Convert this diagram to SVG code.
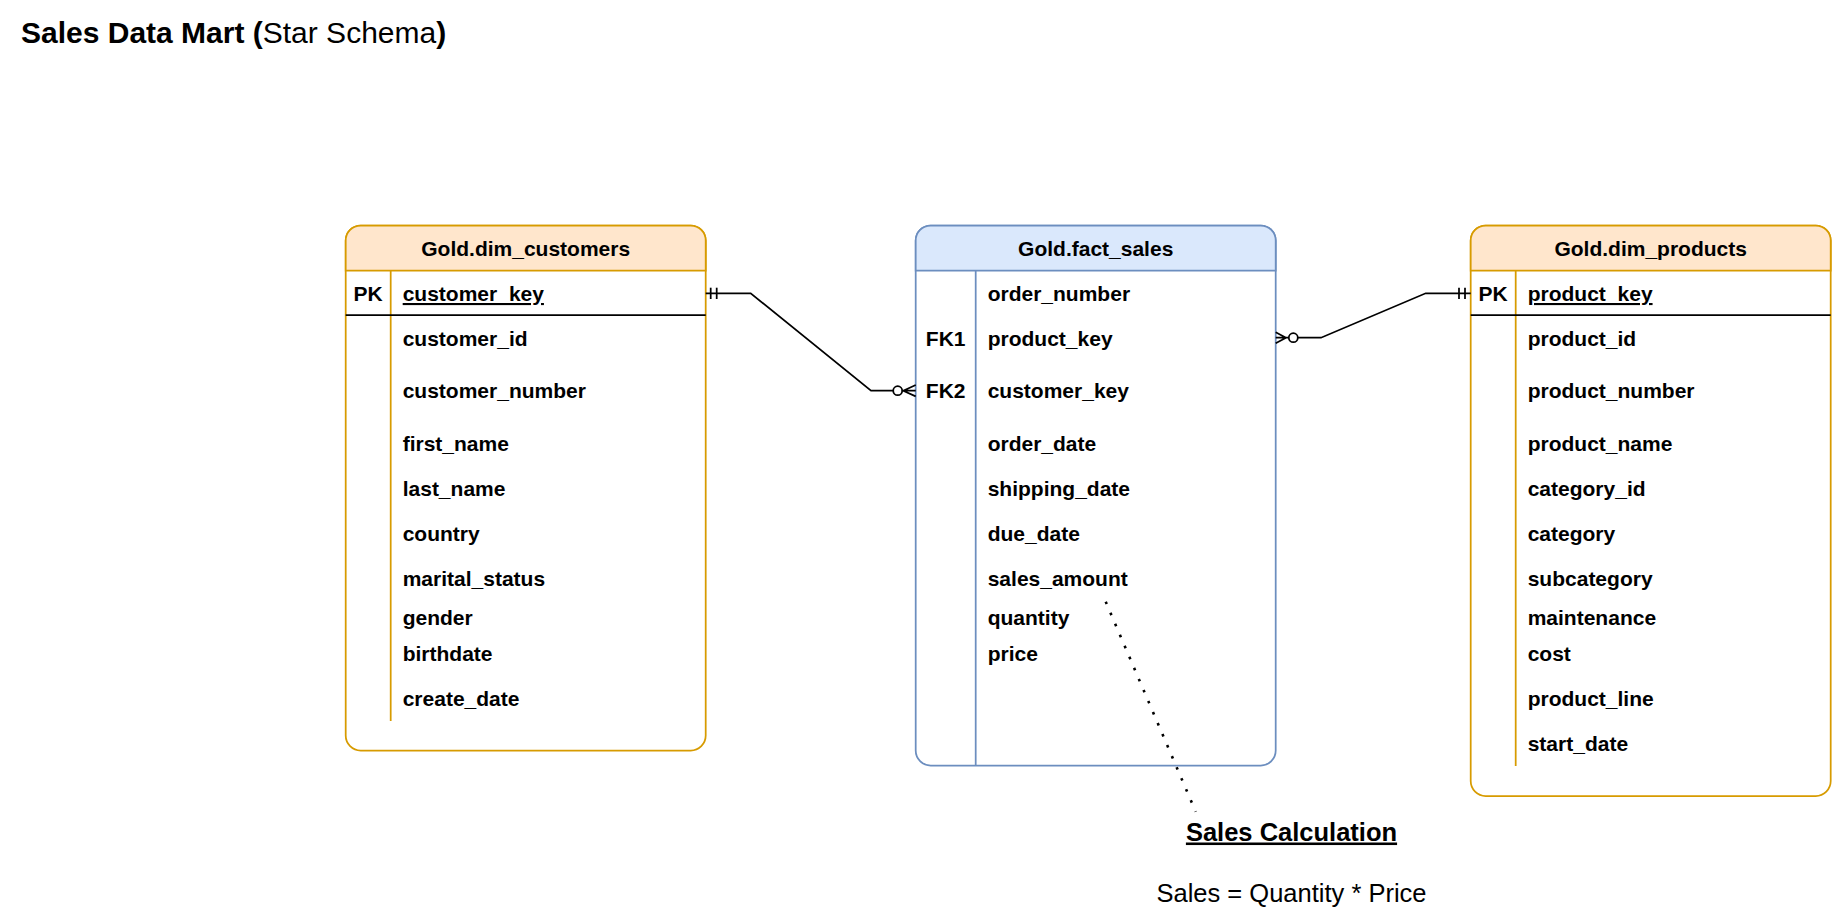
<svg xmlns="http://www.w3.org/2000/svg" width="1832" height="915" viewBox="0 0 1832 915">
<style>
text{font-family:"Liberation Sans",Arial,sans-serif;fill:#000}
.f{font-size:21px;font-weight:bold}
.h{font-size:21px;font-weight:bold;text-anchor:middle}
.k{font-size:21px;font-weight:bold;text-anchor:middle}
.u{text-decoration:underline}
.ob{fill:#fff;stroke:#d79b00;stroke-width:1.75}
.oh{fill:#ffe6cc;stroke:#d79b00;stroke-width:1.75}
.ol{stroke:#d79b00;stroke-width:1.75;fill:none}
.bb{fill:#fff;stroke:#6c8ebf;stroke-width:1.75}
.bh{fill:#dae8fc;stroke:#6c8ebf;stroke-width:1.75}
.bl{stroke:#6c8ebf;stroke-width:1.75;fill:none}
.sep{stroke:#000;stroke-width:1.75;fill:none}
.c{stroke:#000;stroke-width:1.75;fill:none}
.ci{stroke:#000;stroke-width:1.75;fill:#fff}
</style>
<g id="title">
<text x="21" y="42.5" style="font-size:30px"><tspan font-weight="bold">Sales Data Mart (</tspan><tspan>Star Schema</tspan><tspan font-weight="bold">)</tspan></text>
</g>
<g id="dim_customers">
<rect class="ob" x="345.7" y="225.5" width="360" height="525" rx="15" ry="15"/>
<path class="oh" d="M345.7,270.7 V240.5 A15,15 0 0 1 360.7,225.5 H690.7 A15,15 0 0 1 705.7,240.5 V270.7 Z"/>
<line class="ol" x1="390.7" y1="270.7" x2="390.7" y2="721"/>
<line class="sep" x1="345.7" y1="315" x2="705.7" y2="315"/>
<text class="h" x="525.7" y="255.7">Gold.dim_customers</text>
<text class="k" x="368.2" y="301">PK</text>
<text class="f u" x="402.7" y="301">customer_key</text>
<text class="f" x="402.7" y="345.5">customer_id</text>
<text class="f" x="402.7" y="398">customer_number</text>
<text class="f" x="402.7" y="450.7">first_name</text>
<text class="f" x="402.7" y="496">last_name</text>
<text class="f" x="402.7" y="540.7">country</text>
<text class="f" x="402.7" y="586">marital_status</text>
<text class="f" x="402.7" y="624.6">gender</text>
<text class="f" x="402.7" y="660.8">birthdate</text>
<text class="f" x="402.7" y="706.4">create_date</text>
</g>
<g id="fact_sales">
<rect class="bb" x="915.7" y="225.5" width="360" height="540" rx="15" ry="15"/>
<path class="bh" d="M915.7,270.7 V240.5 A15,15 0 0 1 930.7,225.5 H1260.7 A15,15 0 0 1 1275.7,240.5 V270.7 Z"/>
<line class="bl" x1="975.7" y1="270.7" x2="975.7" y2="765.5"/>
<text class="h" x="1095.7" y="255.7">Gold.fact_sales</text>
<text class="f" x="987.7" y="301">order_number</text>
<text class="k" x="945.7" y="345.5">FK1</text>
<text class="f" x="987.7" y="345.5">product_key</text>
<text class="k" x="945.7" y="398">FK2</text>
<text class="f" x="987.7" y="398">customer_key</text>
<text class="f" x="987.7" y="450.7">order_date</text>
<text class="f" x="987.7" y="496">shipping_date</text>
<text class="f" x="987.7" y="540.7">due_date</text>
<text class="f" x="987.7" y="586">sales_amount</text>
<text class="f" x="987.7" y="624.6">quantity</text>
<text class="f" x="987.7" y="660.8">price</text>
</g>
<g id="dim_products">
<rect class="ob" x="1470.7" y="225.5" width="360" height="570.5" rx="15" ry="15"/>
<path class="oh" d="M1470.7,270.7 V240.5 A15,15 0 0 1 1485.7,225.5 H1815.7 A15,15 0 0 1 1830.7,240.5 V270.7 Z"/>
<line class="ol" x1="1515.7" y1="270.7" x2="1515.7" y2="766"/>
<line class="sep" x1="1470.7" y1="315" x2="1830.7" y2="315"/>
<text class="h" x="1650.7" y="255.7">Gold.dim_products</text>
<text class="k" x="1493.2" y="301">PK</text>
<text class="f u" x="1527.7" y="301">product_key</text>
<text class="f" x="1527.7" y="345.5">product_id</text>
<text class="f" x="1527.7" y="398">product_number</text>
<text class="f" x="1527.7" y="450.7">product_name</text>
<text class="f" x="1527.7" y="496">category_id</text>
<text class="f" x="1527.7" y="540.7">category</text>
<text class="f" x="1527.7" y="586">subcategory</text>
<text class="f" x="1527.7" y="624.6">maintenance</text>
<text class="f" x="1527.7" y="660.8">cost</text>
<text class="f" x="1527.7" y="706.4">product_line</text>
<text class="f" x="1527.7" y="750.8">start_date</text>
</g>
<g id="connectors">
<path class="c" d="M705.7,293.3 H750.7 L871,390.7 H893.2"/>
<line class="c" x1="710.7" y1="287.7" x2="710.7" y2="299"/>
<line class="c" x1="716.7" y1="287.7" x2="716.7" y2="299"/>
<circle class="ci" cx="897.7" cy="390.7" r="4.5"/>
<path class="c" d="M902.2,390.7 H915.7 M915.7,385 L903.3,390.7 L915.7,396.4"/>
<path class="c" d="M1470.7,293.3 H1425.7 L1321,337.7 H1297.8"/>
<line class="c" x1="1465" y1="287.7" x2="1465" y2="299"/>
<line class="c" x1="1459" y1="287.7" x2="1459" y2="299"/>
<circle class="ci" cx="1293.3" cy="337.7" r="4.5"/>
<path class="c" d="M1288.8,337.7 H1275.7 M1275.7,332.2 L1286,337.7 L1275.7,343.2"/>
<line x1="1105.7" y1="601.7" x2="1195.7" y2="811.7" stroke="#000" stroke-width="2.6" stroke-dasharray="2.6 9.4"/>
</g>
<g id="sales_calculation">
<text x="1291.5" y="840.5" style="font-size:25.5px;font-weight:bold;text-anchor:middle;text-decoration:underline">Sales Calculation</text>
<text x="1291.5" y="902" style="font-size:25.5px;text-anchor:middle">Sales = Quantity * Price</text>
</g>
</svg>
